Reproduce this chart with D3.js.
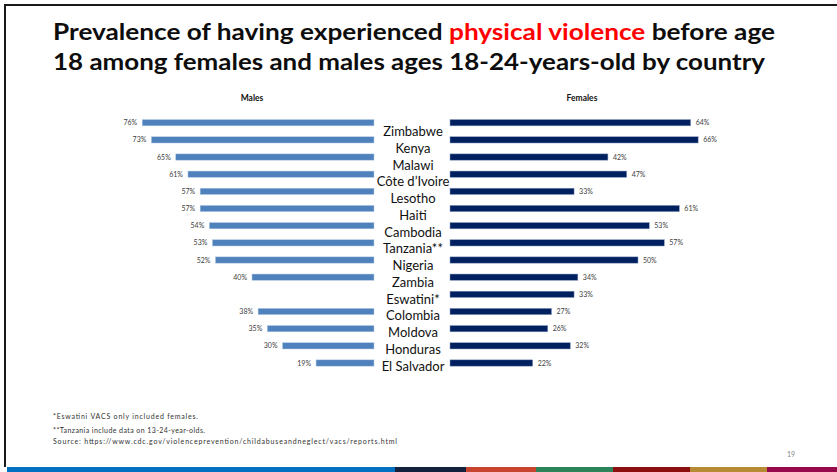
<!DOCTYPE html>
<html>
<head>
<meta charset="utf-8">
<script src="https://cdn.jsdelivr.net/npm/d3@7"></script>
<style>
  body { margin: 0; background: #fff; }
  svg { display: block; font-family: Lato, "Open Sans", sans-serif; }
</style>
</head>
<body>
<script>
// data
var countries = ["Zimbabwe", "Kenya", "Malawi", "Côte d’Ivoire", "Lesotho", "Haiti", "Cambodia",
    "Tanzania**", "Nigeria", "Zambia", "Eswatini*", "Colombia", "Moldova", "Honduras", "El Salvador"];
var males = [76, 73, 65, 61, 57, 57, 54, 53, 52, 40, null, 38, 35, 30, 19];
var females = [64, 66, 42, 47, 33, 61, 53, 57, 50, 34, 33, 27, 26, 32, 22];
var footnotes = [
    "*Eswatini VACS only included females.",
    "**Tanzania include data on 13-24-year-olds.",
    "Source: https://www.cdc.gov/violenceprevention/childabuseandneglect/vacs/reports.html"
];
var stripColors = ["#0070c0", "#14213d", "#c8442c", "#2e845a", "#8d0e0e", "#b78a34", "#960a4c"];
var stripBreaks = [7, 395, 466, 536, 613, 690, 767, 837];

var width = 837,
    height = 472;

var svg = d3.select("body").append("svg")
    .attr("width", width)
    .attr("height", height);

// slide frame (top + left edge)
svg.append("rect").attr("x", 4).attr("y", 4).attr("width", width - 4).attr("height", 2).attr("fill", "#1a1a1a");
svg.append("rect").attr("x", 4).attr("y", 4).attr("width", 2).attr("height", 463).attr("fill", "#1a1a1a");

// title
var t1 = svg.append("text")
    .attr("x", 53).attr("y", 40)
    .attr("font-size", 22.5).attr("font-weight", "bold").attr("fill", "#0d0d0d")
    .attr("textLength", 722).attr("lengthAdjust", "spacingAndGlyphs");
t1.append("tspan").text("Prevalence of having experienced ");
t1.append("tspan").attr("fill", "#ff0000").text("physical violence");
t1.append("tspan").text(" before age");

svg.append("text")
    .attr("x", 53).attr("y", 70)
    .attr("font-size", 22.5).attr("font-weight", "bold").attr("fill", "#0d0d0d")
    .attr("textLength", 712).attr("lengthAdjust", "spacingAndGlyphs")
    .text("18 among females and males ages 18-24-years-old by country");

// scales
var y = d3.scalePoint()
    .domain(countries)
    .range([122.7, 363]);

var yLabel = d3.scalePoint()
    .domain(countries)
    .range([131.5, 366]);

var xM = d3.scaleLinear().domain([0, 100]).range([374, 69]);
var xF = d3.scaleLinear().domain([0, 100]).range([450, 826]);

var barH = 6.3;

// panel headers
svg.append("text").attr("x", 252).attr("y", 101).attr("text-anchor", "middle")
    .attr("font-size", 8.5).attr("font-weight", "bold").attr("fill", "#111").text("Males");
svg.append("text").attr("x", 582).attr("y", 101).attr("text-anchor", "middle")
    .attr("font-size", 8.5).attr("font-weight", "bold").attr("fill", "#111").text("Females");

var maleData = countries.map(function(c, i) { return {country: c, value: males[i]}; })
    .filter(function(d) { return d.value != null; });
var femaleData = countries.map(function(c, i) { return {country: c, value: females[i]}; });

// male bars
svg.append("g").selectAll("rect")
    .data(maleData)
    .enter().append("rect")
    .attr("x", function(d) { return xM(d.value); })
    .attr("y", function(d) { return y(d.country) - barH / 2; })
    .attr("width", function(d) { return xM(0) - xM(d.value); })
    .attr("height", barH)
    .attr("fill", "#4f81bd")
    .attr("stroke", "#b9cde5").attr("stroke-width", 0.5);

svg.append("g").selectAll("text")
    .data(maleData)
    .enter().append("text")
    .attr("x", function(d) { return xM(d.value) - 5; })
    .attr("y", function(d) { return y(d.country) + 2.5; })
    .attr("text-anchor", "end")
    .attr("font-size", 7).attr("fill", "#404040")
    .text(function(d) { return d.value + "%"; });

// female bars
svg.append("g").selectAll("rect")
    .data(femaleData)
    .enter().append("rect")
    .attr("x", xF(0))
    .attr("y", function(d) { return y(d.country) - barH / 2; })
    .attr("width", function(d) { return xF(d.value) - xF(0); })
    .attr("height", barH)
    .attr("fill", "#002060")
    .attr("stroke", "#8da0c0").attr("stroke-width", 0.5);

svg.append("g").selectAll("text")
    .data(femaleData)
    .enter().append("text")
    .attr("x", function(d) { return xF(d.value) + 5; })
    .attr("y", function(d) { return y(d.country) + 2.5; })
    .attr("font-size", 7).attr("fill", "#404040")
    .text(function(d) { return d.value + "%"; });

// country names in the middle
svg.append("g").selectAll("text")
    .data(countries)
    .enter().append("text")
    .attr("x", 413)
    .attr("y", function(d) { return yLabel(d) + 4.7; })
    .attr("text-anchor", "middle")
    .attr("font-size", 13).attr("fill", "#111")
    .text(function(d) { return d; });

// footnotes
var fnY = [419, 433, 444];
var fnLen = [145, 152, 344];
svg.append("g").selectAll("text")
    .data(footnotes)
    .enter().append("text")
    .attr("x", 53)
    .attr("y", function(d, i) { return fnY[i]; })
    .attr("font-size", 7).attr("fill", "#333")
    .attr("textLength", function(d, i) { return fnLen[i]; })
    .attr("lengthAdjust", "spacing")
    .text(function(d) { return d; });

// page number
svg.append("text").attr("x", 791).attr("y", 457).attr("text-anchor", "middle")
    .attr("font-size", 7).attr("fill", "#888").text("19");

// colour strip along the bottom
svg.append("g").selectAll("rect")
    .data(stripColors)
    .enter().append("rect")
    .attr("x", function(d, i) { return stripBreaks[i]; })
    .attr("y", 467)
    .attr("width", function(d, i) { return stripBreaks[i + 1] - stripBreaks[i]; })
    .attr("height", 5)
    .attr("fill", function(d) { return d; });
</script>
</body>
</html>
